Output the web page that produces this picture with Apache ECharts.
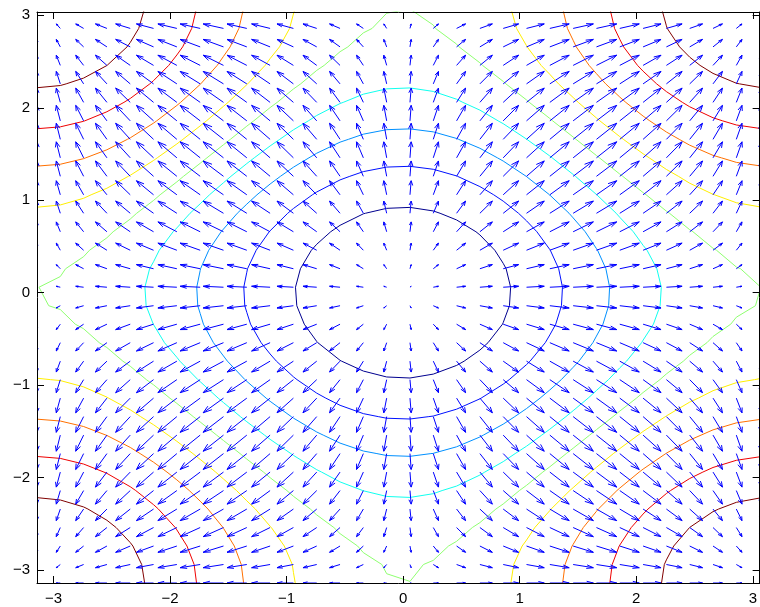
<!DOCTYPE html>
<html>
<head>
<meta charset="utf-8">
<script src="https://cdn.jsdelivr.net/npm/echarts@6/dist/echarts.min.js"></script>
<style>
  html, body { margin: 0; padding: 0; background: #ffffff; }
  #chart { width: 760px; height: 607px; }
</style>
</head>
<body>
<div id="chart"></div>
<script>
// Sample points along each axis (from -pi in steps of 0.2)
const gridX = [-3.1416, -2.9416, -2.7416, -2.5416, -2.3416, -2.1416, -1.9416, -1.7416,
  -1.5416, -1.3416, -1.1416, -0.9416, -0.7416, -0.5416, -0.3416, -0.1416,
  0.0584, 0.2584, 0.4584, 0.6584, 0.8584, 1.0584, 1.2584, 1.4584,
  1.6584, 1.8584, 2.0584, 2.2584, 2.4584, 2.6584, 2.8584, 3.0584];
const gridY = [-3.1416, -2.9416, -2.7416, -2.5416, -2.3416, -2.1416, -1.9416, -1.7416,
  -1.5416, -1.3416, -1.1416, -0.9416, -0.7416, -0.5416, -0.3416, -0.1416,
  0.0584, 0.2584, 0.4584, 0.6584, 0.8584, 1.0584, 1.2584, 1.4584,
  1.6584, 1.8584, 2.0584, 2.2584, 2.4584, 2.6584, 2.8584, 3.0584];

// Field components: horizontal part per column, vertical part per row
const gradX = [0, -0.1987, -0.3894, -0.5646, -0.7174, -0.8415, -0.9320, -0.9854,
  -0.9996, -0.9738, -0.9093, -0.8085, -0.6755, -0.5155, -0.3350, -0.1411,
  0.0584, 0.2555, 0.4425, 0.6119, 0.7568, 0.8716, 0.9516, 0.9937,
  0.9962, 0.9589, 0.8835, 0.7728, 0.6313, 0.4646, 0.2794, 0.0831];
const gradY = [0, -0.1987, -0.3894, -0.5646, -0.7174, -0.8415, -0.9320, -0.9854,
  -0.9996, -0.9738, -0.9093, -0.8085, -0.6755, -0.5155, -0.3350, -0.1411,
  0.0584, 0.2555, 0.4425, 0.6119, 0.7568, 0.8716, 0.9516, 0.9937,
  0.9962, 0.9589, 0.8835, 0.7728, 0.6313, 0.4646, 0.2794, 0.0831];

// Potential profiles; the surface value at a node is potX[i] + potY[j]
const potX = [1, 0.9801, 0.9211, 0.8253, 0.6967, 0.5403, 0.3624, 0.1700,
  -0.0292, -0.2272, -0.4161, -0.5885, -0.7374, -0.8569, -0.9422, -0.9900,
  -0.9983, -0.9668, -0.8968, -0.7910, -0.6536, -0.4903, -0.3073, -0.1122,
  0.0875, 0.2837, 0.4685, 0.6347, 0.7756, 0.8855, 0.9602, 0.9965];
const potY = [1, 0.9801, 0.9211, 0.8253, 0.6967, 0.5403, 0.3624, 0.1700,
  -0.0292, -0.2272, -0.4161, -0.5885, -0.7374, -0.8569, -0.9422, -0.9900,
  -0.9983, -0.9668, -0.8968, -0.7910, -0.6536, -0.4903, -0.3073, -0.1122,
  0.0875, 0.2837, 0.4685, 0.6347, 0.7756, 0.8855, 0.9602, 0.9965];

// Contour levels and their line colours (jet colormap)
const levels = [-1.6, -1.2, -0.8, -0.4, 0, 0.4, 0.8, 1.2, 1.6];
const levelColors = ['#00008f', '#0010ff', '#0090ff', '#10ffef', '#8fff70',
  '#ffef00', '#ff7000', '#ef0000', '#800000'];

// Tick labels on both axes
const tickValues = [-3, -2, -1, 0, 1, 2, 3];

// Axis limits
const xMin = -3.1416, xMax = 3.0584;
const yMin = -3.1416, yMax = 3.036;

// Arrow length per unit of field, and arrowhead proportions
const arrowScale = 0.1744;
const headLen = 0.33, headWidth = 0.33;

const fontFamily = '"Liberation Sans", Arial, Helvetica, sans-serif';

function zAt(i, j) { return potX[i] + potY[j]; }

// Marching squares over the node table, returns line segments for one level
function contourSegments(level) {
  const segs = [];
  const nx = gridX.length, ny = gridY.length;
  function edge(za, zb, pa, pb) {
    if ((za >= level) === (zb >= level)) return null;
    const t = (level - za) / (zb - za);
    return [pa[0] + t * (pb[0] - pa[0]), pa[1] + t * (pb[1] - pa[1])];
  }
  for (let j = 0; j < ny - 1; j++) {
    for (let i = 0; i < nx - 1; i++) {
      const z00 = zAt(i, j), z10 = zAt(i + 1, j), z11 = zAt(i + 1, j + 1), z01 = zAt(i, j + 1);
      const x0 = gridX[i], x1 = gridX[i + 1], y0 = gridY[j], y1 = gridY[j + 1];
      const e = [
        edge(z00, z10, [x0, y0], [x1, y0]),
        edge(z10, z11, [x1, y0], [x1, y1]),
        edge(z01, z11, [x0, y1], [x1, y1]),
        edge(z00, z01, [x0, y0], [x0, y1])
      ];
      const pts = e.filter(Boolean);
      if (pts.length === 2) {
        segs.push(pts);
      } else if (pts.length === 4) {
        const c = (z00 + z10 + z11 + z01) / 4;
        if ((c >= level) === (z00 >= level)) {
          segs.push([e[0], e[1]], [e[2], e[3]]);
        } else {
          segs.push([e[3], e[0]], [e[1], e[2]]);
        }
      }
    }
  }
  return segs;
}

const contourSeries = levels.map((lv, k) => ({
  type: 'lines',
  coordinateSystem: 'cartesian2d',
  xAxisIndex: 0,
  yAxisIndex: 0,
  polyline: false,
  silent: true,
  clip: true,
  z: 2,
  lineStyle: { color: levelColors[k], width: 1, opacity: 1 },
  data: contourSegments(lv).map(s => ({ coords: s }))
}));

const arrowData = [];
for (let j = 0; j < gridY.length; j++) {
  for (let i = 0; i < gridX.length; i++) {
    arrowData.push([gridX[i], gridY[j], gradX[i], gradY[j]]);
  }
}

function renderArrow(params, api) {
  const x = api.value(0), y = api.value(1);
  const u = api.value(2) * arrowScale, v = api.value(3) * arrowScale;
  if (u === 0 && v === 0) return { type: 'group', children: [] };
  const tail = api.coord([x, y]);
  const tip = api.coord([x + u, y + v]);
  const h1 = api.coord([x + u - headLen * (u + headWidth * v), y + v - headLen * (v - headWidth * u)]);
  const h2 = api.coord([x + u - headLen * (u - headWidth * v), y + v - headLen * (v + headWidth * u)]);
  const style = { stroke: '#0000ff', lineWidth: 1, fill: null };
  return {
    type: 'group',
    children: [
      { type: 'polyline', shape: { points: [tail, tip] }, style: style },
      { type: 'polyline', shape: { points: [h1, tip, h2] }, style: style }
    ]
  };
}

function axisBase(pos, showLabel, isX) {
  return {
    type: 'value',
    position: pos,
    min: isX ? xMin : yMin,
    max: isX ? xMax : yMax,
    z: 10,
    axisLine: { show: true, onZero: false, lineStyle: { color: '#000000', width: 1 } },
    axisTick: { show: true, inside: true, length: 7, customValues: tickValues,
      lineStyle: { color: '#000000', width: 1 } },
    axisLabel: {
      show: showLabel,
      customValues: tickValues,
      margin: isX ? 8 : 7,
      color: '#000000',
      fontSize: 15,
      fontFamily: fontFamily,
      formatter: v => String(v).replace('-', '\u2212')
    },
    splitLine: { show: false }
  };
}

const chart = echarts.init(document.getElementById('chart'), null, { renderer: 'canvas' });
chart.setOption({
  animation: false,
  backgroundColor: '#ffffff',
  grid: { left: 37, right: -4, top: 12, bottom: 24, containLabel: false },
  xAxis: [axisBase('bottom', true, true), axisBase('top', false, true)],
  yAxis: [axisBase('left', true, false), axisBase('right', false, false)],
  series: contourSeries.concat([{
    type: 'custom',
    coordinateSystem: 'cartesian2d',
    xAxisIndex: 0,
    yAxisIndex: 0,
    silent: true,
    clip: true,
    z: 3,
    renderItem: renderArrow,
    encode: { x: 0, y: 1 },
    data: arrowData
  }])
});
</script>
</body>
</html>
